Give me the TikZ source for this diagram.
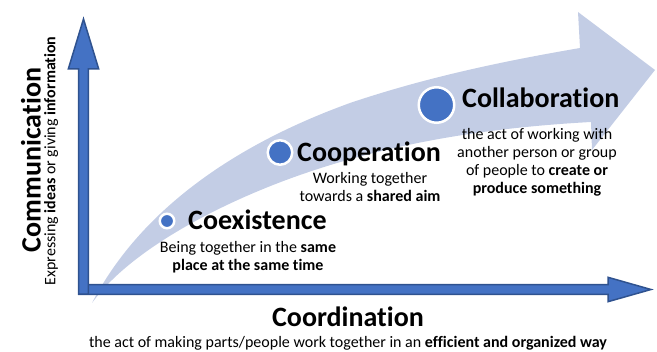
\documentclass[tikz,border=0pt]{standalone}
\usepackage{fontspec}
\setmainfont{Carlito}[Ligatures=NoCommon]
\usetikzlibrary{calc}

\definecolor{axisblue}{HTML}{4472C4}
\definecolor{axisedge}{HTML}{2F528F}
\definecolor{bandblue}{HTML}{C3CDE5}

\begin{document}
\begin{tikzpicture}[x=1pt, y=-1pt,
  axis/.style={fill=axisblue, draw=axisedge, line width=1.5pt, line join=miter},
  dot/.style={circle, fill=axisblue, draw=white, line width=2.5pt, inner sep=0pt},
  stage/.style={font=\fontsize{28}{32}\selectfont\bfseries, anchor=base west, inner sep=0pt},
  title/.style={font=\fontsize{28}{32}\selectfont\bfseries, anchor=base, inner sep=0pt},
  note/.style={font=\fontsize{16}{18}\selectfont, align=center, anchor=base, inner sep=0pt}]
\useasboundingbox (0,0) rectangle (657,352);

% the wide pale arrow behind everything
\fill [bandblue] (92,303) .. controls (135,220) and (220,150) .. (350,103)
  .. controls (430,76) and (510,60) .. (580,48) -- (578,12) -- (655,70)
  -- (592,150) -- (591,122)
  .. controls (500,127) and (400,140) .. (300,175)
  .. controls (220,203) and (130,250) .. (92,303) -- cycle;

\def\shaft{4.8pt}
\newcommand{\axisarrow}[4]{
  \coordinate (h) at ($(#2)!#3!(#1)$);
  \filldraw [axis]
    ($(#1)!\shaft!90:(#2)$) -- ($(h)!\shaft!-90:(#1)$) -- ($(h)!#4!-90:(#1)$)
    -- (#2)
    -- ($(h)!#4!90:(#1)$) -- ($(h)!\shaft!90:(#1)$) -- ($(#1)!\shaft!-90:(#2)$)
    -- cycle;
}
\coordinate (xfoot) at (78.75,289.5);
\coordinate (xtip) at (651,289.5);
\coordinate (yfoot) at (83.5,294.25);
\coordinate (ytip) at (83.5,19);
\axisarrow{xfoot}{xtip}{43pt}{12.2pt}
\axisarrow{yfoot}{ytip}{50pt}{15.2pt}

% stages along the arrow
\node [dot, minimum size=14.5pt] (coexdot) at (167,221) {};
\node [dot, minimum size=24.5pt] (coopdot) at (280,152.5) {};
\node [dot, minimum size=35.5pt] (collabdot) at (436.5,105) {};

\node [stage] (coex) at (188,230) {Coexistence};
\node [stage] (coop) at (297,162) {Cooperation};
\node [stage] (collab) at (462,108) {Collaboration};

% multi-line notes sit on the baseline of their last line
\node [note] (coexnote) at (248,271) {Being together in the \textbf{same}\\\textbf{place at the same time}};
\node [note] (coopnote) at (370,202) {Working together\\towards a \textbf{shared aim}};
\node [note] (collabnote) at (537,194) {the act of working with\\another person or group\\of people to \textbf{create or}\\\textbf{produce something}};

% axis titles
\node [title] (coord) at (348,327) {Coordination};
\node [note] (coordnote) at (348,348) {the act of making parts/people work together in an \textbf{efficient and organized way}};
\node [title, rotate=90] (comm) at (40.5,160) {Communication};
\node [note, rotate=90] (commnote) at (55.5,161) {Expressing \textbf{ideas} or giving \textbf{information}};
\end{tikzpicture}
\end{document}
